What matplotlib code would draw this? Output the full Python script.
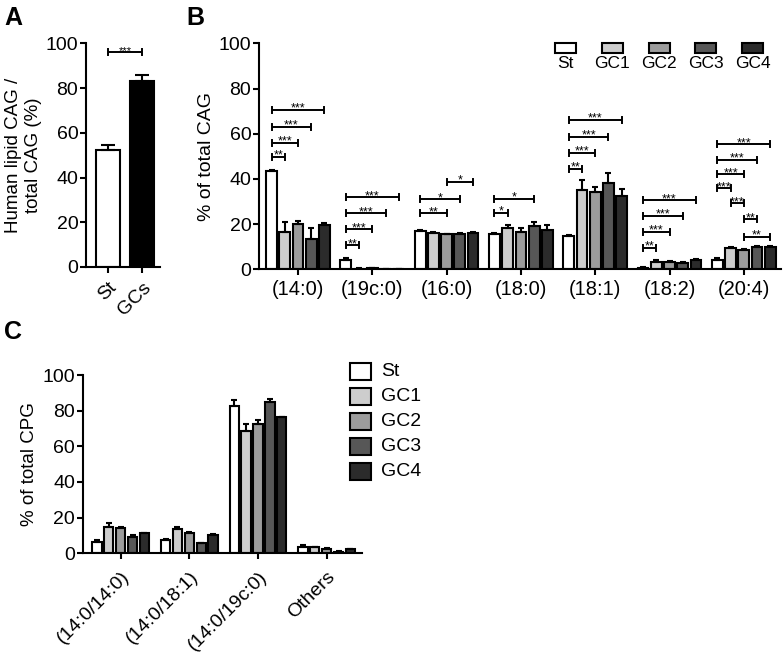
import matplotlib
matplotlib.use('Agg')
import matplotlib.pyplot as plt
from matplotlib.patches import Rectangle
import numpy as np

plt.rcParams['font.family'] = ['Liberation Sans', 'DejaVu Sans']

# panel A
a_labels = ['St', 'GCs']
a_mean = [52.5, 83.0]
a_err = [2.0, 3.0]

# panel B
b_groups = ['(14:0)', '(19c:0)', '(16:0)', '(18:0)', '(18:1)', '(18:2)', '(20:4)']
series = ['St', 'GC1', 'GC2', 'GC3', 'GC4']
st_b = [43.6, 4.3, 17.1, 15.5, 14.8, 0.7, 4.0]
gc1_b = [16.6, 0.3, 16.0, 18.4, 35.2, 3.4, 9.6]
gc2_b = [20.0, 0.5, 15.5, 16.6, 34.0, 3.4, 8.6]
gc3_b = [13.3, 0.2, 15.4, 19.2, 38.1, 3.0, 10.0]
gc4_b = [19.6, 0.2, 16.2, 17.3, 32.3, 4.0, 10.0]
st_b_err = [0.5, 0.7, 0.3, 0.4, 0.5, 0.2, 0.8]
gc1_b_err = [4.4, 0.1, 0.4, 1.2, 4.3, 0.5, 0.4]
gc2_b_err = [1.4, 0.2, 0.3, 1.8, 2.5, 0.4, 0.4]
gc3_b_err = [4.8, 0.1, 0.5, 1.8, 4.4, 0.3, 0.4]
gc4_b_err = [1.0, 0.1, 0.4, 2.2, 3.3, 0.4, 0.4]

# (group, from bar, to bar, height, label)
sig_b = [
    (0, 0, 1, 49.8, '**'), (0, 0, 2, 56.0, '***'), (0, 0, 3, 63.1, '***'), (0, 0, 4, 70.5, '***'),
    (1, 0, 1, 10.6, '**'), (1, 0, 2, 17.7, '***'), (1, 0, 3, 24.8, '***'), (1, 0, 4, 31.9, '***'),
    (2, 0, 2, 24.8, '**'), (2, 0, 3, 31.0, '*'), (2, 2, 4, 38.8, '*'),
    (3, 0, 1, 25.0, '*'), (3, 0, 3, 31.2, '*'),
    (4, 0, 1, 44.5, '**'), (4, 0, 2, 51.4, '***'), (4, 0, 3, 58.5, '***'), (4, 0, 4, 66.0, '***'),
    (5, 0, 1, 9.6, '**'), (5, 0, 2, 16.6, '***'), (5, 0, 3, 23.6, '***'), (5, 0, 4, 30.5, '***'),
    (6, 0, 1, 35.8, '***'), (6, 0, 2, 42.0, '***'), (6, 0, 3, 48.5, '***'), (6, 0, 4, 55.3, '***'),
    (6, 1, 2, 29.2, '***'), (6, 2, 3, 22.1, '**'), (6, 2, 4, 14.4, '**'),
]

# panel C
c_groups = ['(14:0/14:0)', '(14:0/18:1)', '(14:0/19c:0)', 'Others']
st_c = [6.5, 7.5, 82.8, 3.7]
gc1_c = [15.0, 13.5, 68.6, 3.4]
gc2_c = [14.0, 11.2, 72.7, 2.6]
gc3_c = [9.3, 5.6, 84.7, 1.0]
gc4_c = [11.2, 10.3, 76.3, 2.2]
st_c_err = [1.0, 0.6, 3.2, 0.8]
gc1_c_err = [1.8, 1.5, 3.9, 0.4]
gc2_c_err = [1.0, 0.5, 2.1, 0.4]
gc3_c_err = [0.8, 0.4, 1.8, 0.3]
gc4_c_err = [0.3, 0.3, 0.3, 0.3]

colors = ['white', '#cdcdcd', '#9c9c9c', '#575757', '#2b2b2b']

W, H = 784, 653
fig = plt.figure(figsize=(7.84, 6.53), dpi=100)


def box(l, t, r, b):
    return [l / W, 1 - b / H, (r - l) / W, (b - t) / H]


def style(ax):
    ax.spines['top'].set_visible(False)
    ax.spines['right'].set_visible(False)
    for s in ['left', 'bottom']:
        ax.spines[s].set_linewidth(1.5)
    ax.tick_params(direction='out', length=4.5, width=1.5, labelsize=14, pad=1)
    ax.set_ylim(0, 100)
    ax.set_yticks([0, 20, 40, 60, 80, 100])


def bracket(ax, x1, x2, y, label, cap, fs=9):
    ax.plot([x1, x2], [y, y], color='black', lw=1.4, solid_capstyle='butt')
    ax.plot([x1, x1], [y - cap, y + cap], color='black', lw=1.4)
    ax.plot([x2, x2], [y - cap, y + cap], color='black', lw=1.4)
    ax.text((x1 + x2) / 2, y - cap * 0.6, label, ha='center', va='baseline', fontsize=fs)


# ---- A
axA = fig.add_axes(box(86, 43.3, 160, 267))
style(axA)
xa = np.arange(2)
axA.bar(xa, a_mean, width=0.7, color=['white', 'black'], edgecolor='black', linewidth=1.5)
axA.errorbar(xa, a_mean, yerr=[np.zeros(2), a_err], fmt='none', ecolor='black',
             elinewidth=1.5, capsize=5, capthick=1.5)
axA.set_xlim(-0.656, 1.53)
axA.set_xticks(xa)
axA.set_xticklabels(a_labels, rotation=45, ha='right', rotation_mode='anchor')
axA.tick_params(axis='x', pad=4)
axA.set_ylabel('Human lipid CAG /\ntotal CAG (%)', fontsize=13.5, labelpad=3)
bracket(axA, 0, 1, 96, '***', 1.3, fs=8)

# ---- B
axB = fig.add_axes(box(259, 43.3, 781, 269.3))
style(axB)
xb = np.arange(len(b_groups))
pitch_b = 0.178
b_vals = [st_b, gc1_b, gc2_b, gc3_b, gc4_b]
b_errs = [st_b_err, gc1_b_err, gc2_b_err, gc3_b_err, gc4_b_err]
for i in range(5):
    xs = xb + (i - 2) * pitch_b
    axB.bar(xs, b_vals[i], width=0.145, color=colors[i], edgecolor='black', linewidth=1.5)
    axB.errorbar(xs, b_vals[i], yerr=[np.zeros(len(xs)), b_errs[i]], fmt='none',
                 ecolor='black', elinewidth=1.5, capsize=2.5, capthick=1.5)
axB.set_xlim(-0.525, 6.5)
axB.set_xticks(xb)
axB.set_xticklabels(b_groups, fontsize=14.5)
axB.tick_params(axis='x', pad=3)
axB.set_ylabel('% of total CAG', fontsize=14, labelpad=3)
for g, i, j, y, lab in sig_b:
    bracket(axB, g + (i - 2) * pitch_b, g + (j - 2) * pitch_b, y, lab, 1.3)

# legend B (horizontal, box above text)
leg_x = [555, 601.7, 648.7, 695, 742]
for i, name in enumerate(series):
    fig.add_artist(Rectangle((leg_x[i] / W, 1 - 52.7 / H), 21 / W, 10 / H,
                             transform=fig.transFigure, facecolor=colors[i],
                             edgecolor='black', linewidth=1.5))
    fig.text((leg_x[i] + 10.5) / W, 1 - 56 / H, name, ha='center', va='top', fontsize=12.5)

# ---- C
axC = fig.add_axes(box(82.7, 375, 361.7, 553.3))
style(axC)
xc = np.arange(len(c_groups))
pitch_c = 0.173
c_vals = [st_c, gc1_c, gc2_c, gc3_c, gc4_c]
c_errs = [st_c_err, gc1_c_err, gc2_c_err, gc3_c_err, gc4_c_err]
for i in range(5):
    xs = xc + (i - 2) * pitch_c
    axC.bar(xs, c_vals[i], width=0.135, color=colors[i], edgecolor='black', linewidth=1.5)
    axC.errorbar(xs, c_vals[i], yerr=[np.zeros(len(xs)), c_errs[i]], fmt='none',
                 ecolor='black', elinewidth=1.5, capsize=2.5, capthick=1.5)
axC.set_xlim(-0.553, 3.51)
axC.set_xticks(xc)
axC.set_xticklabels(c_groups, rotation=45, ha='right', rotation_mode='anchor', fontsize=14)
axC.tick_params(axis='x', pad=6)
axC.set_ylabel('% of total CPG', fontsize=13.5, labelpad=3)

# legend C (vertical)
for i, name in enumerate(series):
    top = 363.3 + 25 * i
    fig.add_artist(Rectangle((350 / W, 1 - (top + 16.7) / H), 20.7 / W, 16.7 / H,
                             transform=fig.transFigure, facecolor=colors[i],
                             edgecolor='black', linewidth=1.5))
    fig.text(381 / W, 1 - (top + 8.3) / H, name, ha='left', va='center', fontsize=14)

fig.text(4 / W, 1 - 6 / H, 'A', fontsize=18, fontweight='bold', va='top')
fig.text(186 / W, 1 - 6 / H, 'B', fontsize=18, fontweight='bold', va='top')
fig.text(4 / W, 1 - 320 / H, 'C', fontsize=18, fontweight='bold', va='top')

fig.savefig('out.png', dpi=100)
